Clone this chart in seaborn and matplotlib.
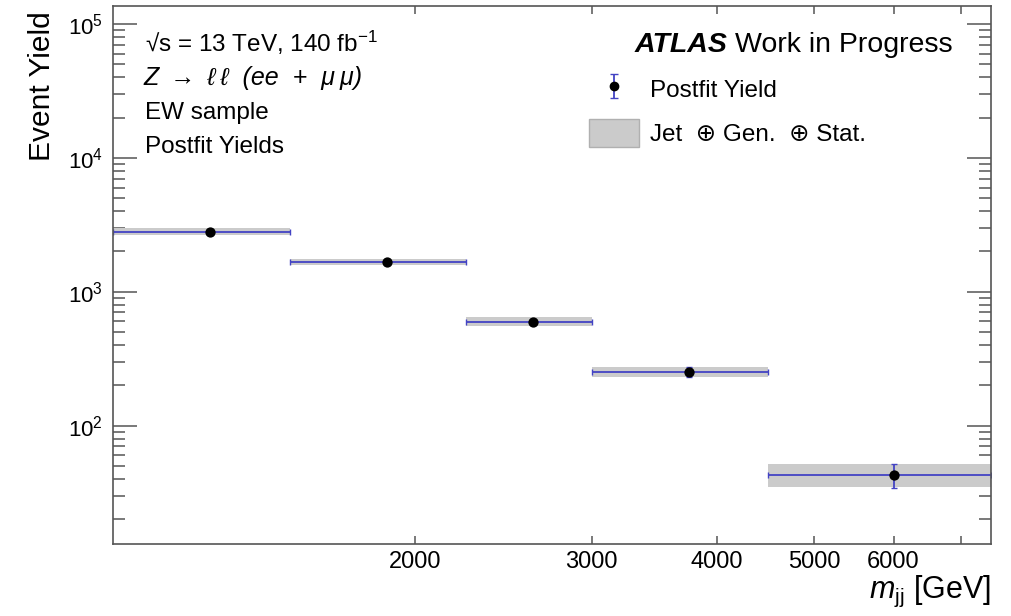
import numpy as np
import seaborn as sns
import matplotlib.pyplot as plt
from matplotlib.patches import Patch
from matplotlib.ticker import LogLocator, FixedLocator, FixedFormatter, NullLocator

# postfit yields per m_jj bin
bin_edges = [1000, 1500, 2250, 3000, 4500, 7500]
yields = [2800, 1670, 595, 252, 43]
stat_err = [45, 35, 20, 22, 8.5]
band_lo = [2660, 1580, 555, 231, 34.8]
band_hi = [2985, 1765, 645, 275, 52]

x_ticks = [2000, 3000, 4000, 5000, 6000, 7000]
x_tick_labels = ["2000", "3000", "4000", "5000", "6000", ""]
y_major = [1e2, 1e3, 1e4, 1e5]
y_major_labels = [r"$10^{2}$", r"$10^{3}$", r"$10^{4}$", r"$10^{5}$"]

BLUE = "#4343c4"
GREY = "#cbcbcb"
AXCOL = "#555555"

sns.set_style("ticks")
plt.rcParams['font.family'] = ['Liberation Sans', 'DejaVu Sans']
plt.rcParams['mathtext.fontset'] = 'custom'
plt.rcParams['mathtext.rm'] = 'Liberation Sans'
plt.rcParams['mathtext.it'] = 'Liberation Sans:italic'
plt.rcParams['mathtext.bf'] = 'Liberation Sans:bold'
plt.rcParams['text.color'] = 'black'
plt.rcParams['axes.labelcolor'] = 'black'
plt.rcParams['xtick.labelcolor'] = 'black'
plt.rcParams['ytick.labelcolor'] = 'black'

edges = np.array(bin_edges, dtype=float)
lo = edges[:-1]
hi = edges[1:]
centers = (lo + hi) / 2
y = np.array(yields)

fig = plt.figure(figsize=(10.12, 6.16), dpi=100)
ax = fig.add_axes([0.1117, 0.1169, 0.8673, 0.8739])
ax.set_xscale("log")
ax.set_yscale("log")

# uncertainty bands
ax.bar(lo, np.array(band_hi) - np.array(band_lo), bottom=band_lo, width=hi - lo,
       align="edge", color=GREY, linewidth=0, zorder=1)

# error bars (bin width + stat)
ax.errorbar(centers, y, xerr=[centers - lo, hi - centers], yerr=stat_err,
            fmt="none", ecolor=BLUE, elinewidth=1.3, capsize=2.5, capthick=1.0, zorder=2)
sns.scatterplot(x=centers, y=y, ax=ax, color="black", s=55, edgecolor="black",
                linewidth=0, zorder=4, legend=False)

ax.set_xlim(1000, 7500)
ax.set_ylim(13.06, 1.37e5)

# ticks
ax.xaxis.set_major_locator(FixedLocator(x_ticks))
ax.xaxis.set_major_formatter(FixedFormatter(x_tick_labels))
ax.xaxis.set_minor_locator(NullLocator())
ax.yaxis.set_major_locator(FixedLocator(y_major))
ax.yaxis.set_major_formatter(FixedFormatter(y_major_labels))
ax.yaxis.set_minor_locator(LogLocator(base=10, subs=np.arange(2, 10), numticks=20))
ax.tick_params(axis="x", which="major", direction="in", length=6, width=1.1,
               color=AXCOL, top=True, labelsize=17, pad=5)
ax.tick_params(axis="y", which="major", direction="in", length=17, width=1.1,
               color=AXCOL, right=True, labelsize=16, pad=7)
ax.tick_params(axis="y", which="minor", direction="in", length=8.5, width=1.1,
               color=AXCOL, right=True)
for s in ax.spines.values():
    s.set_color(AXCOL)
    s.set_linewidth(1.2)

ax.set_ylabel("Event Yield", fontsize=21.5, loc="top")
ax.yaxis.set_label_coords(-0.065, 0.989)
ax.set_xlabel(r"$m_{\mathrm{jj}}$ [GeV]", fontsize=22, loc="right")
ax.xaxis.set_label_coords(1.0, -0.055)

# annotations
tx = 0.0365
ax.text(tx, 0.9145, "√s = 13 TeV, 140 fb$^{\\mathrm{-1}}$", transform=ax.transAxes,
        fontsize=17.5, va="baseline")
ax.text(tx - 0.002, 0.853, "Z \u2009→\u2009 ℓ\u2009ℓ  (ee  +  μ\u2009μ)", transform=ax.transAxes,
        fontsize=18, style="italic", va="baseline")
ax.text(tx, 0.789, "EW sample", transform=ax.transAxes, fontsize=17.5, va="baseline")
ax.text(tx, 0.727, "Postfit Yields", transform=ax.transAxes, fontsize=17.5, va="baseline")

ax.text(0.700, 0.9145, "ATLAS", transform=ax.transAxes, fontsize=20.5, fontweight="bold",
        style="italic", ha="right", va="baseline")
ax.text(0.956, 0.9145, "Work in Progress", transform=ax.transAxes, fontsize=20.5,
        ha="right", va="baseline")

# legend
h_data = ax.errorbar([np.nan], [np.nan], yerr=[1], fmt="o", color="black", ms=6,
                     ecolor=BLUE, elinewidth=1.3, capsize=3, capthick=1.0)
h_band = Patch(facecolor=GREY, edgecolor="#b0b0b0", linewidth=1)
ax.legend([h_data, h_band], ["Postfit Yield", "Jet  ⊕ Gen.  ⊕ Stat."],
          loc="upper left", bbox_to_anchor=(0.542, 0.872), frameon=False,
          fontsize=17.5, handlelength=2.06, handleheight=1.45, handletextpad=0.45,
          borderpad=0, borderaxespad=0, labelspacing=0.62)

fig.savefig("out.png", dpi=100)
